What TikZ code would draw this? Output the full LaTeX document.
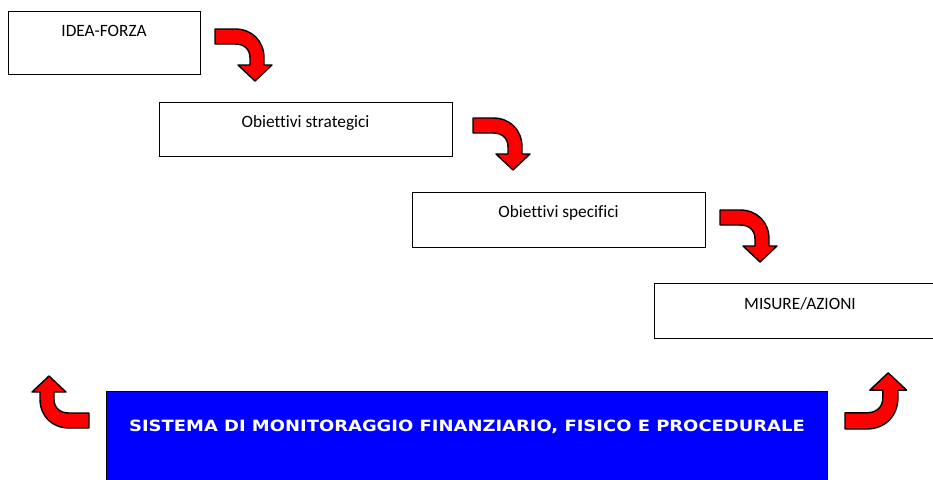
\documentclass[tikz,border=0pt]{standalone}
\usepackage{fontspec}
\setmainfont{Carlito}[Ligatures={NoCommon}]
\newfontfamily\blfont{DejaVu Sans}
\tikzset{
  x=1pt, y=-1pt,
  stagebox/.style={draw=black, line width=1.4pt, fill=white, rectangle, anchor=north west, inner sep=0pt},
  stagetext/.style={font=\fontsize{17.3}{19}\selectfont, inner sep=0pt, anchor=center},
  monbox/.style={draw=black, line width=1.4pt, fill=blue, rectangle, anchor=north west, inner sep=0pt},
  montext/.style={font=\blfont\bfseries\fontsize{15.5}{17}\selectfont, text=white, inner sep=0pt, anchor=center},
  redarrow/.style={fill=red, draw=black, line width=1.4pt, line join=round},
  carrow/.pic={
    \path[redarrow] (0,0) -- (20,0) .. controls (37,0) and (49,12) .. (49,29)
      -- (49,36) -- (57,36) -- (40,52) -- (23,36) -- (35,36) -- (35,29)
      .. controls (35,20) and (29,15) .. (20,15) -- (0,15) -- cycle;
  }
}
\begin{document}
\begin{tikzpicture}
\useasboundingbox (0,0) rectangle (933,479);
\clip (0,0) rectangle (933,479);
\fill[white] (0,0) rectangle (933,479);

% stage boxes
\node[stagebox, minimum width=192pt, minimum height=63pt] (idea) at (8,11) {};
\node[stagetext] (ideat) at (104,31) {IDEA-FORZA};

\node[stagebox, minimum width=293pt, minimum height=54pt] (strat) at (159,102) {};
\node[stagetext] (stratt) at (305.5,123) {Obiettivi strategici};

\node[stagebox, minimum width=293pt, minimum height=55pt] (spec) at (412,192) {};
\node[stagetext] (spect) at (558.5,213) {Obiettivi specifici};

\node[stagebox, minimum width=292pt, minimum height=55pt] (mis) at (654,283) {};
\node[stagetext] (mist) at (800,304) {MISURE/AZIONI};

% monitoring box
\node[monbox, minimum width=721pt, minimum height=110pt] (mon) at (106,391) {};
\node[montext] (mont) at (467,427) {\scalebox{1.158}[1]{SISTEMA DI MONITORAGGIO FINANZIARIO, FISICO E PROCEDURALE}};

% curved arrows
\pic at (215,29) {carrow};
\pic at (473,118) {carrow};
\pic at (720,210) {carrow};
\pic[rotate=180] at (89,428) {carrow};
\pic[yscale=-1.08, xscale=1.08] at (845,429) {carrow};
\end{tikzpicture}
\end{document}
